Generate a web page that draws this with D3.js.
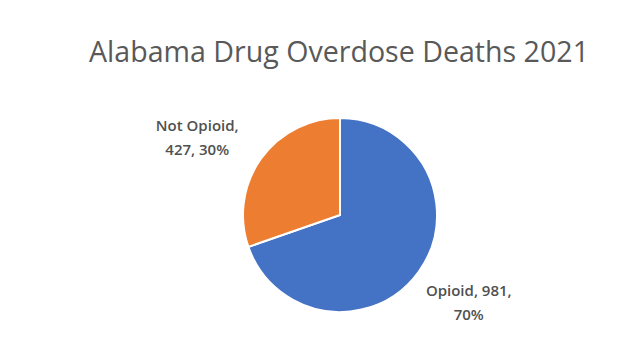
<!DOCTYPE html>
<html>
<head>
<meta charset="utf-8">
<script src="https://cdn.jsdelivr.net/npm/d3@7.9.0/dist/d3.min.js"></script>
<style>
  html, body { margin: 0; padding: 0; background: #fff; }
  svg { display: block; }
</style>
</head>
<body>
<svg id="chart" width="635" height="354"></svg>
<script>
const categories = ['Opioid', 'Not Opioid'];
const deaths = [981, 427];
const percents = ['70%', '30%'];
const colors = ['#4472C4', '#ED7D31'];

const width = 635, height = 354;
const cx = 340, cy = 215, radius = 97;

const svg = d3.select('#chart');

// title
svg.append('text')
  .attr('x', 339)
  .attr('y', 62)
  .attr('text-anchor', 'middle')
  .attr('font-family', 'Open Sans, sans-serif')
  .attr('font-size', 29)
  .attr('fill', '#595959')
  .attr('textLength', 500)
  .attr('lengthAdjust', 'spacingAndGlyphs')
  .text('Alabama Drug Overdose Deaths 2021');

const data = categories.map((c, i) => ({ label: c, value: deaths[i], pct: percents[i], color: colors[i] }));

const pie = d3.pie().sort(null).value(d => d.value);
const arc = d3.arc().innerRadius(0).outerRadius(radius);
const labelArc = d3.arc().innerRadius(158).outerRadius(158);

const g = svg.append('g').attr('transform', `translate(${cx},${cy})`);

g.selectAll('path')
  .data(pie(data))
  .join('path')
  .attr('d', arc)
  .attr('fill', d => d.data.color)
  .attr('stroke', '#fff')
  .attr('stroke-width', 2);

// data labels, two lines each, like Excel's outside-end labels
const lines = d => d.data.label === 'Opioid'
  ? [`${d.data.label}, ${d.data.value},`, d.data.pct]
  : [`${d.data.label},`, `${d.data.value}, ${d.data.pct}`];

const labels = g.selectAll('text.lbl')
  .data(pie(data))
  .join('text')
  .attr('class', 'lbl')
  .attr('text-anchor', 'middle')
  .attr('font-family', 'Open Sans, sans-serif')
  .attr('font-size', 15)
  .attr('font-weight', 600)
  .attr('fill', '#505050')
  .attr('transform', d => {
    const [x, y] = labelArc.centroid(d);
    const dx = x < 0 ? -14 : 0;
    const dy = y < 0 ? 12 : -6;
    return `translate(${x + dx},${y + dy})`;
  });

labels.selectAll('tspan')
  .data(d => lines(d))
  .join('tspan')
  .attr('x', 0)
  .attr('dy', (d, i) => i === 0 ? '-0.3em' : '1.6em')
  .text(d => d);
</script>
</body>
</html>
